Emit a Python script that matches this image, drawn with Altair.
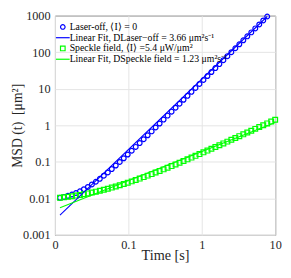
import altair as alt
import pandas as pd

TIME = [0.0117, 0.01325, 0.01502, 0.01702, 0.01929, 0.02186, 0.02476, 0.02806, 0.0318, 0.03603,
        0.04083, 0.04627, 0.05244, 0.05941, 0.06733, 0.0763, 0.08646, 0.09797, 0.111, 0.1258,
        0.1426, 0.1616, 0.1831, 0.2075, 0.2351, 0.2664, 0.3019, 0.3421, 0.3877, 0.4393,
        0.4977, 0.564, 0.6391, 0.7243, 0.8207, 0.93, 1.054, 1.194, 1.353, 1.533,
        1.738, 1.969, 2.232, 2.529, 2.866, 3.247, 3.68, 4.17, 4.725, 5.354,
        6.067, 6.875, 7.791, 8.828, 10.0]

BLUE_MSD = [0.01034, 0.01095, 0.01173, 0.01273, 0.01402, 0.01567, 0.0178, 0.02052, 0.02402, 0.02852,
            0.03429, 0.0417, 0.0512, 0.0634, 0.0791, 0.0993, 0.1252, 0.1584, 0.2011, 0.2559,
            0.3263, 0.4167, 0.5327, 0.6817, 0.873, 1.118, 1.434, 1.839, 2.359, 3.027,
            3.885, 4.986, 6.40, 8.22, 10.54, 13.54, 17.38, 22.32, 28.66, 36.80,
            47.26, 60.69, 77.93, 100.1, 128.5, 165.0, 211.9, 272.1, 349.4, 448.7,
            576.2, 739.9, 950.1]

GREEN_MSD = [0.01035, 0.01068, 0.01104, 0.01146, 0.01192, 0.01244, 0.01302, 0.01368, 0.01442, 0.01525,
             0.01618, 0.01722, 0.01839, 0.01971, 0.02119, 0.02286, 0.02472, 0.02682, 0.02918, 0.03183,
             0.03481, 0.03815, 0.04191, 0.04612, 0.05086, 0.05619, 0.06216, 0.06888, 0.07643, 0.08491,
             0.09442, 0.1051, 0.1171, 0.1306, 0.1458, 0.1628, 0.1819, 0.2034, 0.2275, 0.2547,
             0.2851, 0.3193, 0.3577, 0.4009, 0.4494, 0.5038, 0.565, 0.6338, 0.711, 0.7977,
             0.895, 1.0045, 1.127, 1.265, 1.421]

FIT_BLUE_T = [0.0117, 7.79]
FIT_BLUE_MSD = [0.0035, 950.0]
FIT_GREEN_T = [0.0117, 10.0]
FIT_GREEN_MSD = [0.0055, 1.2]

LABELS = [
    "Laser-off, ⟨I⟩ = 0",
    "Linear Fit, DLaser−off = 3.66 μm²s⁻¹",
    "Speckle field, ⟨I⟩ =5.4 μW/μm²",
    "Linear Fit, DSpeckle field = 1.23 μm²s⁻¹",
]
COLORS = ["#0000ff", "#0000ff", "#00ff00", "#00ff00"]
SHAPES = ["circle", "M-3,0L3,0", "square", "M-3,0L3,0"]

X_TICKS = [0.01, 0.1, 1, 10]
Y_TICKS = [0.001, 0.01, 0.1, 1, 10, 100, 1000]

pts = pd.DataFrame({
    "series": [LABELS[0]] * len(BLUE_MSD) + [LABELS[2]] * len(GREEN_MSD),
    "t": TIME[:len(BLUE_MSD)] + TIME[:len(GREEN_MSD)],
    "msd": BLUE_MSD + GREEN_MSD,
})
fits = pd.DataFrame({
    "series": [LABELS[1]] * 2 + [LABELS[3]] * 2,
    "t": FIT_BLUE_T + FIT_GREEN_T,
    "msd": FIT_BLUE_MSD + FIT_GREEN_MSD,
})

FONT = "Liberation Serif"
NB = "\u00a0"

x = alt.X("t:Q", title="Time [s]",
          scale=alt.Scale(type="log", domain=[0.01, 10], nice=False),
          axis=alt.Axis(values=X_TICKS, labelExpr="datum.value < 0.05 ? '0' : format(datum.value, '~g')",
                        labelFlush=False, labelOverlap=False,
                        labelFontSize=12.5, titleFontSize=14.5, labelPadding=4, titlePadding=-2))
y = alt.Y("msd:Q", title="MSD" + NB + "(t)" + NB + NB + "[μm²]",
          scale=alt.Scale(type="log", domain=[0.001, 1000], nice=False),
          axis=alt.Axis(values=Y_TICKS, labelExpr="format(datum.value, '~g')",
                        labelFlush=False, labelOverlap=False,
                        labelFontSize=12.5, titleFontSize=14, labelPadding=5, titlePadding=-2))

legend = alt.Legend(title=None, orient="none", legendX=3, legendY=6.5, labelFontSize=10,
                    labelLimit=400, symbolSize=22, symbolStrokeWidth=1.2, rowPadding=1,
                    labelOffset=2, padding=0, labelFont=FONT, labelColor="#000000")
color = alt.Color("series:N", scale=alt.Scale(domain=LABELS, range=COLORS), legend=legend)
shape = alt.Shape("series:N", scale=alt.Scale(domain=LABELS, range=SHAPES), legend=legend)

points = alt.Chart(pts).mark_point(filled=False, size=24, strokeWidth=1.2, opacity=1).encode(
    x=x, y=y, color=color, shape=shape)
lines = alt.Chart(fits).mark_line(strokeWidth=1.1).encode(x=x, y=y, color=color)

chart = alt.layer(points, lines).properties(
    width=225, height=224,
    autosize=alt.AutoSizeParams(type="none"),
    padding={"left": 48, "top": 5, "right": 8, "bottom": 33},
).configure_view(stroke="#404040", strokeWidth=1).configure_axis(
    domain=False, ticks=False, grid=True, gridColor="#e4e4e4", gridWidth=1,
    labelFont=FONT, titleFont=FONT, labelColor="#262626", titleColor="#262626",
    titleFontWeight="normal",
)

chart.save("out.html", embed_options={"renderer": "svg", "actions": False})
